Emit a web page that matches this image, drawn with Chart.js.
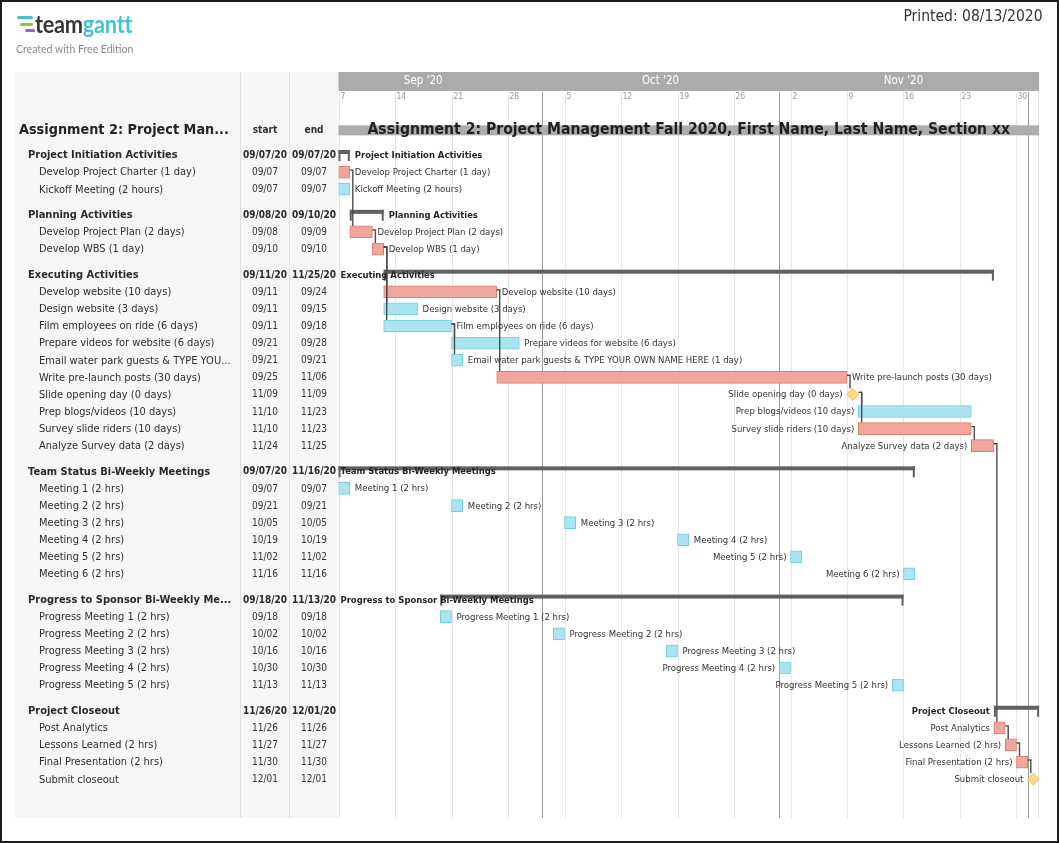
<!DOCTYPE html>
<html>
<head>
<meta charset="utf-8">
<title>Assignment 2 - TeamGantt</title>
<script src="https://cdn.jsdelivr.net/npm/chart.js@4.4.1/dist/chart.umd.min.js"></script>
<style>
  html, body { margin: 0; padding: 0; background: #fff; }
  #page { position: relative; width: 1059px; height: 843px; overflow: hidden; }
  #chart { position: absolute; left: 0; top: 0; }
  #frame { position: absolute; left: 0; top: 0; width: 1059px; height: 843px; box-sizing: border-box; border: 2px solid #1d1d1d; pointer-events: none; }
  .bar { position: absolute; height: 3px; border-radius: 2px; }
  #brand { position: absolute; left: 35px; top: 8px; font-family: Lato, "Open Sans", sans-serif; font-weight: 700; font-size: 25px; letter-spacing: -0.3px; color: #363636; line-height: 1.2; transform: scaleX(0.87); transform-origin: left top; white-space: nowrap; }
  #brand span { color: #45c2d1; }
  #edition { position: absolute; left: 16px; top: 43px; font-family: Lato, sans-serif; font-size: 10.5px; color: #8a8a8a; }
  #printed { position: absolute; right: 16px; top: 7px; font-family: "DejaVu Sans", sans-serif; font-size: 15.5px; color: #333; transform: scaleX(0.9); transform-origin: right top; white-space: nowrap; }
</style>
</head>
<body>
<div id="page">
  <canvas id="chart" width="1059" height="843"></canvas>
  <div class="bar" style="left:17px;top:15.5px;width:16px;background:#45c2d1"></div>
  <div class="bar" style="left:20px;top:22.5px;width:13px;background:#8cc63e"></div>
  <div class="bar" style="left:25px;top:28.5px;width:10px;background:#9b5fc0"></div>
  <div id="brand">team<span>gantt</span></div>
  <div id="edition">Created with Free Edition</div>
  <div id="printed"></div>
  <div id="frame"></div>
</div>
<script>
// ---- values ----
const projectTitle = 'Assignment 2: Project Management Fall 2020, First Name, Last Name, Section xx';
const printedOn = '08/13/2020';

const groupNames = [
  'Project Initiation Activities',
  'Planning Activities',
  'Executing Activities',
  'Team Status Bi-Weekly Meetings',
  'Progress to Sponsor Bi-Weekly Meetings',
  'Project Closeout'
];
const groupStart = ['09/07/20', '09/08/20', '09/11/20', '09/07/20', '09/18/20', '11/26/20'];
const groupEnd   = ['09/07/20', '09/10/20', '11/25/20', '11/16/20', '11/13/20', '12/01/20'];

const taskGroup = [0, 0, 1, 1, 2, 2, 2, 2, 2, 2, 2, 2, 2, 2, 3, 3, 3, 3, 3, 3, 4, 4, 4, 4, 4, 5, 5, 5, 5];
const taskNames = [
  'Develop Project Charter (1 day)', 'Kickoff Meeting (2 hours)',
  'Develop Project Plan (2 days)', 'Develop WBS (1 day)',
  'Develop website (10 days)', 'Design website (3 days)', 'Film employees on ride (6 days)',
  'Prepare videos for website (6 days)', 'Email water park guests & TYPE YOUR OWN NAME HERE (1 day)',
  'Write pre-launch posts (30 days)', 'Slide opening day (0 days)', 'Prep blogs/videos (10 days)',
  'Survey slide riders (10 days)', 'Analyze Survey data (2 days)',
  'Meeting 1 (2 hrs)', 'Meeting 2 (2 hrs)', 'Meeting 3 (2 hrs)', 'Meeting 4 (2 hrs)', 'Meeting 5 (2 hrs)', 'Meeting 6 (2 hrs)',
  'Progress Meeting 1 (2 hrs)', 'Progress Meeting 2 (2 hrs)', 'Progress Meeting 3 (2 hrs)', 'Progress Meeting 4 (2 hrs)', 'Progress Meeting 5 (2 hrs)',
  'Post Analytics', 'Lessons Learned (2 hrs)', 'Final Presentation (2 hrs)', 'Submit closeout'
];
const taskStart = ['09/07', '09/07', '09/08', '09/10', '09/11', '09/11', '09/11', '09/21', '09/21', '09/25', '11/09', '11/10', '11/10', '11/24',
  '09/07', '09/21', '10/05', '10/19', '11/02', '11/16', '09/18', '10/02', '10/16', '10/30', '11/13', '11/26', '11/27', '11/30', '12/01'];
const taskEnd   = ['09/07', '09/07', '09/09', '09/10', '09/24', '09/15', '09/18', '09/28', '09/21', '11/06', '11/09', '11/23', '11/23', '11/25',
  '09/07', '09/21', '10/05', '10/19', '11/02', '11/16', '09/18', '10/02', '10/16', '10/30', '11/13', '11/26', '11/27', '11/30', '12/01'];
const taskColor = ['red', 'blue', 'red', 'red', 'red', 'blue', 'blue', 'blue', 'blue', 'red', 'milestone', 'blue', 'red', 'red',
  'blue', 'blue', 'blue', 'blue', 'blue', 'blue', 'blue', 'blue', 'blue', 'blue', 'blue', 'red', 'red', 'red', 'milestone'];

// predecessor -> successor (task indexes)
const taskLinks = [[0, 2], [2, 3], [3, 4], [3, 5], [3, 6], [6, 7], [6, 8], [4, 9], [9, 10], [10, 11], [10, 12], [12, 13],
  [13, 25], [25, 26], [26, 27], [27, 28]];

// timeline header (weekends are left out, one unit = one working day from 09/07)
const monthNames = ["Sep '20", "Oct '20", "Nov '20"];
const monthLabelAt = [7.5, 28.5, 50];
const monthBreaks = [18, 39, 61];
const weekStarts = ['09/07', '09/14', '09/21', '09/28', '10/05', '10/12', '10/19', '10/26', '11/02', '11/09', '11/16', '11/23', '11/30'];
const timelineDays = 62;

// ---- helpers ----
const FIRST = new Date(2020, 8, 7);
function wd(s) {
  const [m, d] = s.split('/').map(Number);
  const target = new Date(2020, m - 1, d);
  let n = 0;
  for (let t = new Date(FIRST); t < target; t.setDate(t.getDate() + 1)) {
    if (t.getDay() !== 0 && t.getDay() !== 6) n++;
  }
  return n;
}

const SX = 0.9; // the export squeezes its text horizontally
const FAM = '"DejaVu Sans", sans-serif';
const font = (size, bold) => (bold ? 'bold ' : '') + size + 'px ' + FAM;
function textW(ctx, s, f) { ctx.font = f; return ctx.measureText(s).width * SX; }
function text(ctx, s, x, y, f, color, align) {
  ctx.save();
  ctx.font = f;
  ctx.fillStyle = color;
  ctx.textBaseline = 'middle';
  ctx.textAlign = align || 'left';
  ctx.translate(x, y);
  ctx.scale(SX, 1);
  ctx.fillText(s, 0, 0);
  ctx.restore();
}
function fit(ctx, s, f, maxW) {
  if (textW(ctx, s, f) <= maxW) return s;
  let n = s.length;
  while (n > 0 && textW(ctx, s.slice(0, n).trimEnd() + '...', f) > maxW) n--;
  return s.slice(0, n).trimEnd() + '...';
}

// ---- rows ----
const rows = [];
groupNames.forEach((name, g) => {
  rows.push({ kind: 'group', g, name, s: wd(groupStart[g]), e: wd(groupEnd[g]) + 1, from: groupStart[g], to: groupEnd[g] });
  taskNames.forEach((tn, t) => {
    if (taskGroup[t] !== g) return;
    rows.push({ kind: 'task', g, t, name: tn, s: wd(taskStart[t]), e: wd(taskEnd[t]) + 1, from: taskStart[t], to: taskEnd[t], color: taskColor[t] });
  });
});
rows.forEach((r, i) => { r.u = i + 0.5 * r.g; }); // half a row of space between groups
const taskRow = {};
rows.forEach(r => { if (r.kind === 'task') taskRow[r.t] = r; });
const TITLE_ROW = -1.5;

const barOf = r => ({ x: [r.s, r.e], y: r.u });
const redBars = rows.filter(r => r.color === 'red').map(barOf);
const blueBars = rows.filter(r => r.color === 'blue').map(barOf);
const milestones = rows.filter(r => r.color === 'milestone').map(r => ({ x: r.s + 0.5, y: r.u }));

document.getElementById('printed').textContent = 'Printed: ' + printedOn;

// ---- layout ----
const AREA = { left: 338.5, top: 72, right: 1039.1, bottom: 818 };
const ROW_H = 17.1, FIRST_ROW_Y = 155;
const TABLE_LEFT = 15, COL1 = 240.5, COL2 = 289.5;

function edges(x, r) {
  if (r.color === 'milestone') {
    const c = x.getPixelForValue(r.s + 0.5);
    return [c - 6, c + 6];
  }
  return [x.getPixelForValue(r.s), x.getPixelForValue(r.e)];
}

const ganttDecor = {
  id: 'ganttDecor',
  beforeDatasetsDraw(chart) {
    const { ctx, chartArea: a, scales: { x, y } } = chart;
    ctx.save();
    // table panel
    ctx.fillStyle = '#f6f6f6';
    ctx.fillRect(TABLE_LEFT, a.top, a.left - TABLE_LEFT, a.bottom - a.top);
    ctx.strokeStyle = '#e0e0e0';
    ctx.lineWidth = 1;
    [COL1, COL2].forEach(cx => { ctx.beginPath(); ctx.moveTo(cx, a.top); ctx.lineTo(cx, a.bottom); ctx.stroke(); });

    // month band
    ctx.fillStyle = '#ababab';
    ctx.fillRect(a.left, a.top, a.right - a.left, 19);
    monthNames.forEach((m, i) => text(ctx, m, x.getPixelForValue(monthLabelAt[i]), a.top + 9.5, font(11.5), '#fff', 'center'));

    // week lines and day numbers
    weekStarts.forEach(ws => {
      const px = Math.round(x.getPixelForValue(wd(ws))) + 0.5;
      ctx.strokeStyle = '#e6e6e6';
      ctx.beginPath(); ctx.moveTo(px, a.top + 20); ctx.lineTo(px, a.bottom); ctx.stroke();
      text(ctx, String(Number(ws.split('/')[1])), px + 1, a.top + 25, font(8.5), '#999', 'left');
    });
    ctx.strokeStyle = '#e6e6e6';
    ctx.beginPath(); ctx.moveTo(a.right - 0.5, a.top + 20); ctx.lineTo(a.right - 0.5, a.bottom); ctx.stroke();
    ctx.strokeStyle = '#9c9c9c';
    monthBreaks.forEach(v => {
      const px = Math.round(x.getPixelForValue(v)) + 0.5;
      ctx.beginPath(); ctx.moveTo(px, a.top + 20); ctx.lineTo(px, a.bottom); ctx.stroke();
    });

    // project bar
    const ty = y.getPixelForValue(TITLE_ROW);
    ctx.fillStyle = '#adadad';
    ctx.fillRect(a.left, ty - 4, a.right - a.left, 10);

    // group brackets
    ctx.fillStyle = '#616161';
    rows.filter(r => r.kind === 'group').forEach(r => {
      const x0 = x.getPixelForValue(r.s), x1 = x.getPixelForValue(r.e), yc = y.getPixelForValue(r.u);
      ctx.fillRect(x0, yc - 5, x1 - x0, 4);
      ctx.fillRect(x0, yc - 5, 2, 11);
      ctx.fillRect(x1 - 2, yc - 5, 2, 11);
    });
    ctx.restore();
  },
  afterDatasetsDraw(chart) {
    const { ctx, chartArea: a, scales: { x, y } } = chart;
    ctx.save();
    // dependency links
    ctx.strokeStyle = '#4d4d4d';
    ctx.lineWidth = 1.4;
    taskLinks.forEach(([p, s]) => {
      const rp = taskRow[p], rs = taskRow[s];
      const pe = edges(x, rp)[1], ss = edges(x, rs)[0];
      const yp = y.getPixelForValue(rp.u), ys = y.getPixelForValue(rs.u);
      const sx = pe + 3;
      ctx.beginPath();
      ctx.moveTo(pe, yp - 2);
      ctx.lineTo(sx, yp - 2);
      if (ss > sx + 1) { ctx.lineTo(sx, ys); ctx.lineTo(ss, ys); }
      else ctx.lineTo(sx, ys - 6);
      ctx.stroke();
    });

    // bar labels
    const mid = (x.min + x.max) / 2;
    rows.forEach(r => {
      const bold = r.kind === 'group';
      const f = bold ? font(9.4, true) : font(9.5);
      const w = textW(ctx, r.name, f);
      const [xs, xe] = bold ? [x.getPixelForValue(r.s), x.getPixelForValue(r.e)] : edges(x, r);
      const yc = y.getPixelForValue(r.u) + 0.5;
      const col = bold ? '#262626' : '#333';
      if (r.s > mid) text(ctx, r.name, xs - 4, yc, f, col, 'right');
      else if (xe + 5 + w <= a.right) text(ctx, r.name, xe + 5, yc, f, col, 'left');
      else if (xs - 5 - w >= a.left) text(ctx, r.name, xs - 5, yc, f, col, 'right');
      else text(ctx, r.name, a.left + 2, yc, f, col, 'left');
    });

    // project title
    const ty = y.getPixelForValue(TITLE_ROW) + 1;
    text(ctx, projectTitle, (a.left + a.right) / 2, ty, font(15.6, true), '#1f1f1f', 'center');

    // table
    const c1 = (COL1 + COL2) / 2, c2 = (COL2 + a.left) / 2;
    text(ctx, fit(ctx, projectTitle, font(14.3, true), 232 - 19), 19, ty, font(14.3, true), '#242424');
    text(ctx, 'start', c1, ty, font(10, true), '#2e2e2e', 'center');
    text(ctx, 'end', c2, ty, font(10, true), '#2e2e2e', 'center');
    rows.forEach(r => {
      const yc = y.getPixelForValue(r.u) + 0.5;
      if (r.kind === 'group') {
        const f = font(11, true);
        text(ctx, fit(ctx, r.name, f, 232 - 28), 28, yc, f, '#2a2a2a');
        text(ctx, r.from, c1, yc, font(10, true), '#2a2a2a', 'center');
        text(ctx, r.to, c2, yc, font(10, true), '#2a2a2a', 'center');
      } else {
        const f = font(11);
        text(ctx, fit(ctx, r.name, f, 232 - 39), 39, yc, f, '#2f2f2f');
        text(ctx, r.from, c1, yc, font(10), '#333', 'center');
        text(ctx, r.to, c2, yc, font(10), '#333', 'center');
      }
    });
    ctx.restore();
  }
};

new Chart(document.getElementById('chart'), {
  type: 'bar',
  data: {
    datasets: [
      { label: 'Red tasks', data: redBars, indexAxis: 'y', backgroundColor: '#f0a69c', borderColor: '#de7b70', borderWidth: 1, borderSkipped: false, barThickness: 12, grouped: false },
      { label: 'Blue tasks', data: blueBars, indexAxis: 'y', backgroundColor: '#a9e4ef', borderColor: '#6ccfe1', borderWidth: 1, borderSkipped: false, barThickness: 12, grouped: false },
      { type: 'scatter', label: 'Milestones', data: milestones, pointStyle: 'rectRot', pointRadius: 6, backgroundColor: '#fdd88d', borderColor: '#f2c05f', borderWidth: 1 }
    ]
  },
  options: {
    indexAxis: 'y',
    responsive: false,
    animation: false,
    layout: { autoPadding: false, padding: { left: AREA.left, top: AREA.top, right: 1059 - AREA.right, bottom: 843 - AREA.bottom } },
    scales: {
      x: { type: 'linear', min: 0, max: timelineDays, offset: false, display: false },
      y: { type: 'linear', min: (AREA.top - FIRST_ROW_Y) / ROW_H, max: (AREA.bottom - FIRST_ROW_Y) / ROW_H, reverse: true, offset: false, display: false }
    },
    plugins: { legend: { display: false }, tooltip: { enabled: false } }
  },
  plugins: [ganttDecor]
});
</script>
</body>
</html>
